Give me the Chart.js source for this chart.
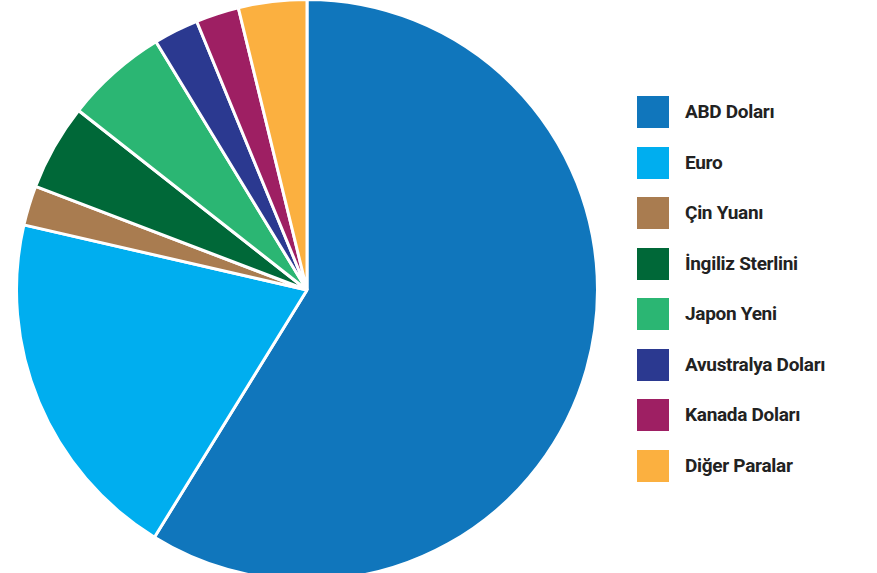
<!DOCTYPE html>
<html>
<head>
<meta charset="utf-8">
<script src="https://cdn.jsdelivr.net/npm/chart.js@4/dist/chart.umd.min.js"></script>
<style>
  html, body { margin: 0; padding: 0; background: #fff; width: 877px; height: 573px; overflow: hidden; position: relative; }
  #pieBox { position: absolute; left: 15px; top: -2px; width: 584px; height: 584px; }
  #legend { position: absolute; left: 637px; top: 96px; font-family: "Liberation Sans Narrow", Roboto, sans-serif; font-weight: bold; font-size: 19px; color: #222; }
  .row { height: 50.5px; display: flex; align-items: flex-start; }
  .sw { width: 32px; height: 32px; margin-right: 16px; }
  .lbl { line-height: 32px; letter-spacing: -0.3px; }
</style>
</head>
<body>
<div id="pieBox"><canvas id="pie"></canvas></div>
<div id="legend"></div>
<script>
const labels = ['ABD Doları', 'Euro', 'Çin Yuanı', 'İngiliz Sterlini', 'Japon Yeni', 'Avustralya Doları', 'Kanada Doları', 'Diğer Paralar'];
const shares = [58.8, 19.8, 2.2, 4.8, 5.7, 2.5, 2.4, 3.8];
const colors = ['#1076bc', '#00aeef', '#a97c50', '#006838', '#2bb673', '#2b3990', '#9e1f63', '#fbb040'];

new Chart(document.getElementById('pie'), {
  type: 'pie',
  data: {
    labels: labels,
    datasets: [{ data: shares, backgroundColor: colors, borderColor: '#fff', borderWidth: 3 }]
  },
  options: {
    responsive: true,
    maintainAspectRatio: false,
    animation: false,
    layout: { padding: 0 },
    plugins: { legend: { display: false }, tooltip: { enabled: false } }
  }
});

const legend = document.getElementById('legend');
labels.forEach((l, i) => {
  const row = document.createElement('div');
  row.className = 'row';
  row.innerHTML = `<div class="sw" style="background:${colors[i]}"></div><div class="lbl">${l}</div>`;
  legend.appendChild(row);
});
</script>
</body>
</html>
